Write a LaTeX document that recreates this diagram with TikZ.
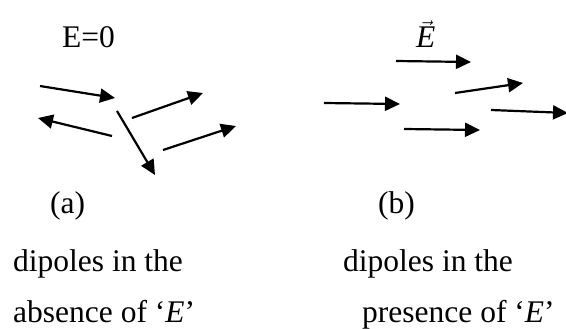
\documentclass[tikz,border=0pt]{standalone}
\usepackage{fontspec}
\setmainfont{Liberation Serif}
\usetikzlibrary{arrows.meta}
\tikzset{
  dip/.style={-{Triangle[length=15pt,width=14pt]}, line width=2.2pt, black},
  lbl/.style={anchor=base west, inner sep=0pt, font=\fontsize{31.5}{36}\selectfont},
}

\begin{document}
\begin{tikzpicture}[x=1pt, y=-1pt]
\useasboundingbox (0,0) rectangle (566,329);

% (a) no field: random dipoles
\node[lbl] (ezero) at (62,48) {E=0};
\draw[dip] (40,86) -- (115,98);
\draw[dip] (112,136) -- (38,118);
\draw[dip] (117,111) -- (155,175);
\draw[dip] (132,118) -- (203,93);
\draw[dip] (163,150) -- (236,126);
\node[lbl] (capa) at (50,213) {(a)};

% (b) with field: aligned dipoles
\node[lbl] (evec) at (416,48) {$\vec{\mbox{\itshape E}}$};
\draw[dip] (396,61) -- (471,62);
\draw[dip] (455,93) -- (523,83);
\draw[dip] (324,103) -- (400,104);
\draw[dip] (491,110) -- (568,113);
\draw[dip] (404,129) -- (480,130);
\node[lbl] (capb) at (378,213) {(b)};

% captions
\node[lbl] (absa) at (13,272) {dipoles in the};
\node[lbl] (absb) at (13,322) {absence of `\textit{E}'};
\node[lbl] (prea) at (343,272) {dipoles in the};
\node[lbl] (preb) at (362,322) {presence of `\textit{E}'};
\end{tikzpicture}
\end{document}
